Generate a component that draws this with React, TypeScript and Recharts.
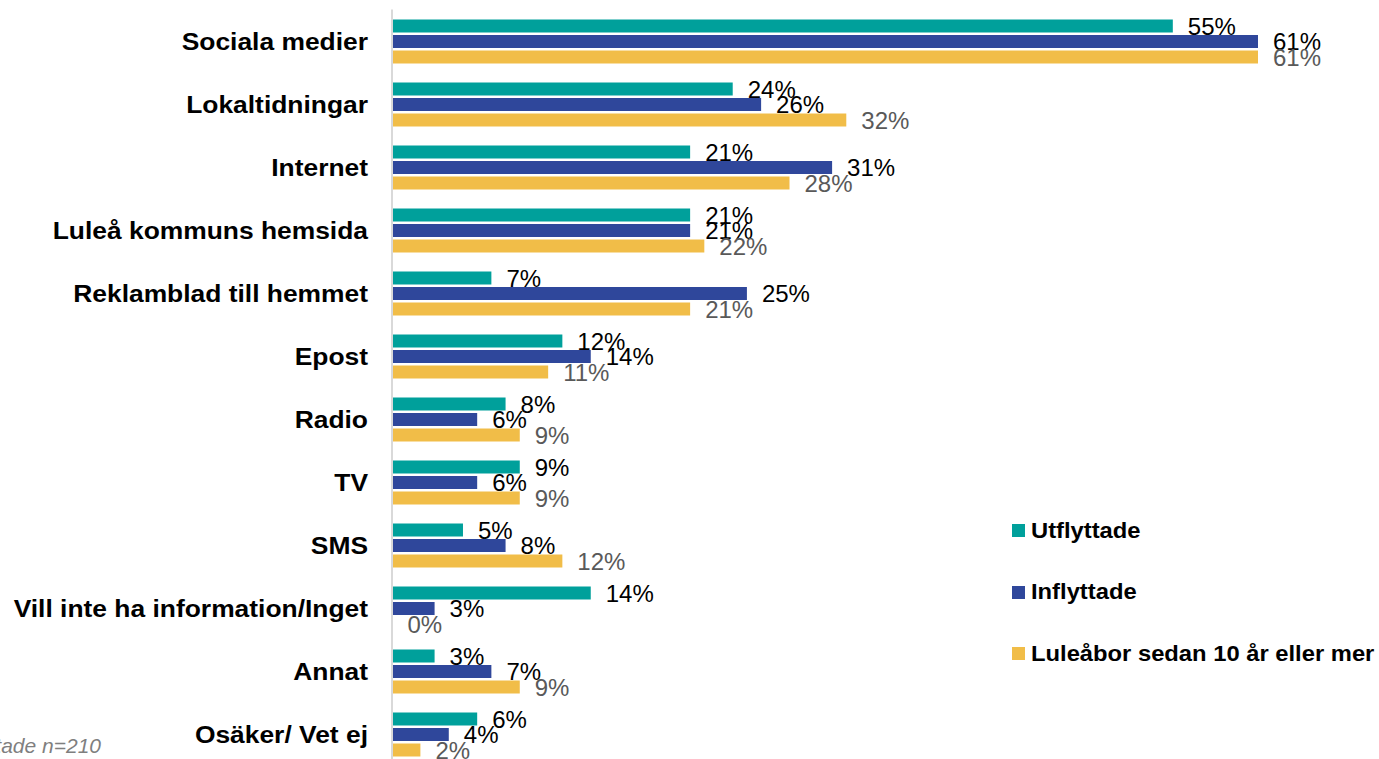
// App.tsx — grouped horizontal bar chart, information channels by group
import { BarChart, Bar, XAxis, YAxis, LabelList } from "recharts";

const categories = [
    "Sociala medier",
    "Lokaltidningar",
    "Internet",
    "Luleå kommuns hemsida",
    "Reklamblad till hemmet",
    "Epost",
    "Radio",
    "TV",
    "SMS",
    "Vill inte ha information/Inget",
    "Annat",
    "Osäker/ Vet ej",
];
const utflyttade = [55, 24, 21, 21, 7, 12, 8, 9, 5, 14, 3, 6];
const inflyttade = [61, 26, 31, 21, 25, 14, 6, 6, 8, 3, 7, 4];
const luleabor = [61, 32, 28, 22, 21, 11, 9, 9, 12, 0, 9, 2];

const seriesNames = ["Utflyttade", "Inflyttade", "Luleåbor sedan 10 år eller mer"];
const colors = ["#00A09B", "#2F479B", "#F1BD48"];
const labelColors = ["#000000", "#000000", "#595959"];

const data = categories.map((name, i) => ({
    name,
    utf: utflyttade[i],
    inf: inflyttade[i],
    lul: luleabor[i],
}));

const FONT = "'Liberation Sans', Arial, sans-serif";

function CategoryTick({ x, y, payload }: any) {
    return (
        <g transform={`translate(${x},${y}) scale(1.1,1)`}>
            <text x={0} y={0} dy="0.36em" textAnchor="end" fontFamily={FONT} fontWeight="bold" fontSize={24} fill="#000">
                {payload.value}
            </text>
        </g>
    );
}

const pct = (v: any) => `${v}%`;

// legend is drawn outside the chart so it doesn't eat plot height
function LegendBox() {
    return (
        <div style={{ position: "absolute", left: 1012, top: 500, fontFamily: FONT }}>
            {seriesNames.map((n, i) => (
                <div key={n} style={{ height: 61.5, display: "flex", alignItems: "center" }}>
                    <span style={{ width: 13, height: 13, background: colors[i], display: "inline-block", marginRight: 6 }} />
                    <span style={{ fontSize: 22, fontWeight: "bold", color: "#000", transform: "scaleX(1.08)", transformOrigin: "left center", whiteSpace: "nowrap" }}>
                        {n}
                    </span>
                </div>
            ))}
        </div>
    );
}

export default function App() {
    return (
        <div style={{ position: "absolute", left: 0, top: 0, width: 1379, height: 759, overflow: "hidden", background: "#fff" }}>
            <BarChart
                width={1379}
                height={775}
                data={data}
                layout="vertical"
                margin={{ top: 9.5, right: 121, left: 0, bottom: 9.5 }}
                barSize={13}
                barGap={2.5}
            >
                <XAxis type="number" domain={[0, 61]} hide allowDataOverflow />
                <YAxis
                    type="category"
                    dataKey="name"
                    width={392}
                    axisLine={{ stroke: "#D9D9D9", strokeWidth: 2 }}
                    tickLine={false}
                    tickSize={0}
                    tickMargin={24}
                    tick={<CategoryTick />}
                    interval={0}
                />
                {(["utf", "inf", "lul"] as const).map((k, i) => (
                    <Bar key={k} dataKey={k} name={seriesNames[i]} fill={colors[i]} minPointSize={0.5} isAnimationActive={false}>
                        <LabelList
                            dataKey={k}
                            position="right"
                            offset={15}
                            formatter={pct}
                            fill={labelColors[i]}
                            fontSize={24}
                            fontFamily={FONT}
                        />
                    </Bar>
                ))}
            </BarChart>
            <LegendBox />
            <div style={{ position: "absolute", right: 1379 - 101, top: 734, fontFamily: FONT, fontStyle: "italic", fontSize: 21, color: "#7F7F7F", whiteSpace: "nowrap" }}>
                Utflyttade n=210
            </div>
        </div>
    );
}
